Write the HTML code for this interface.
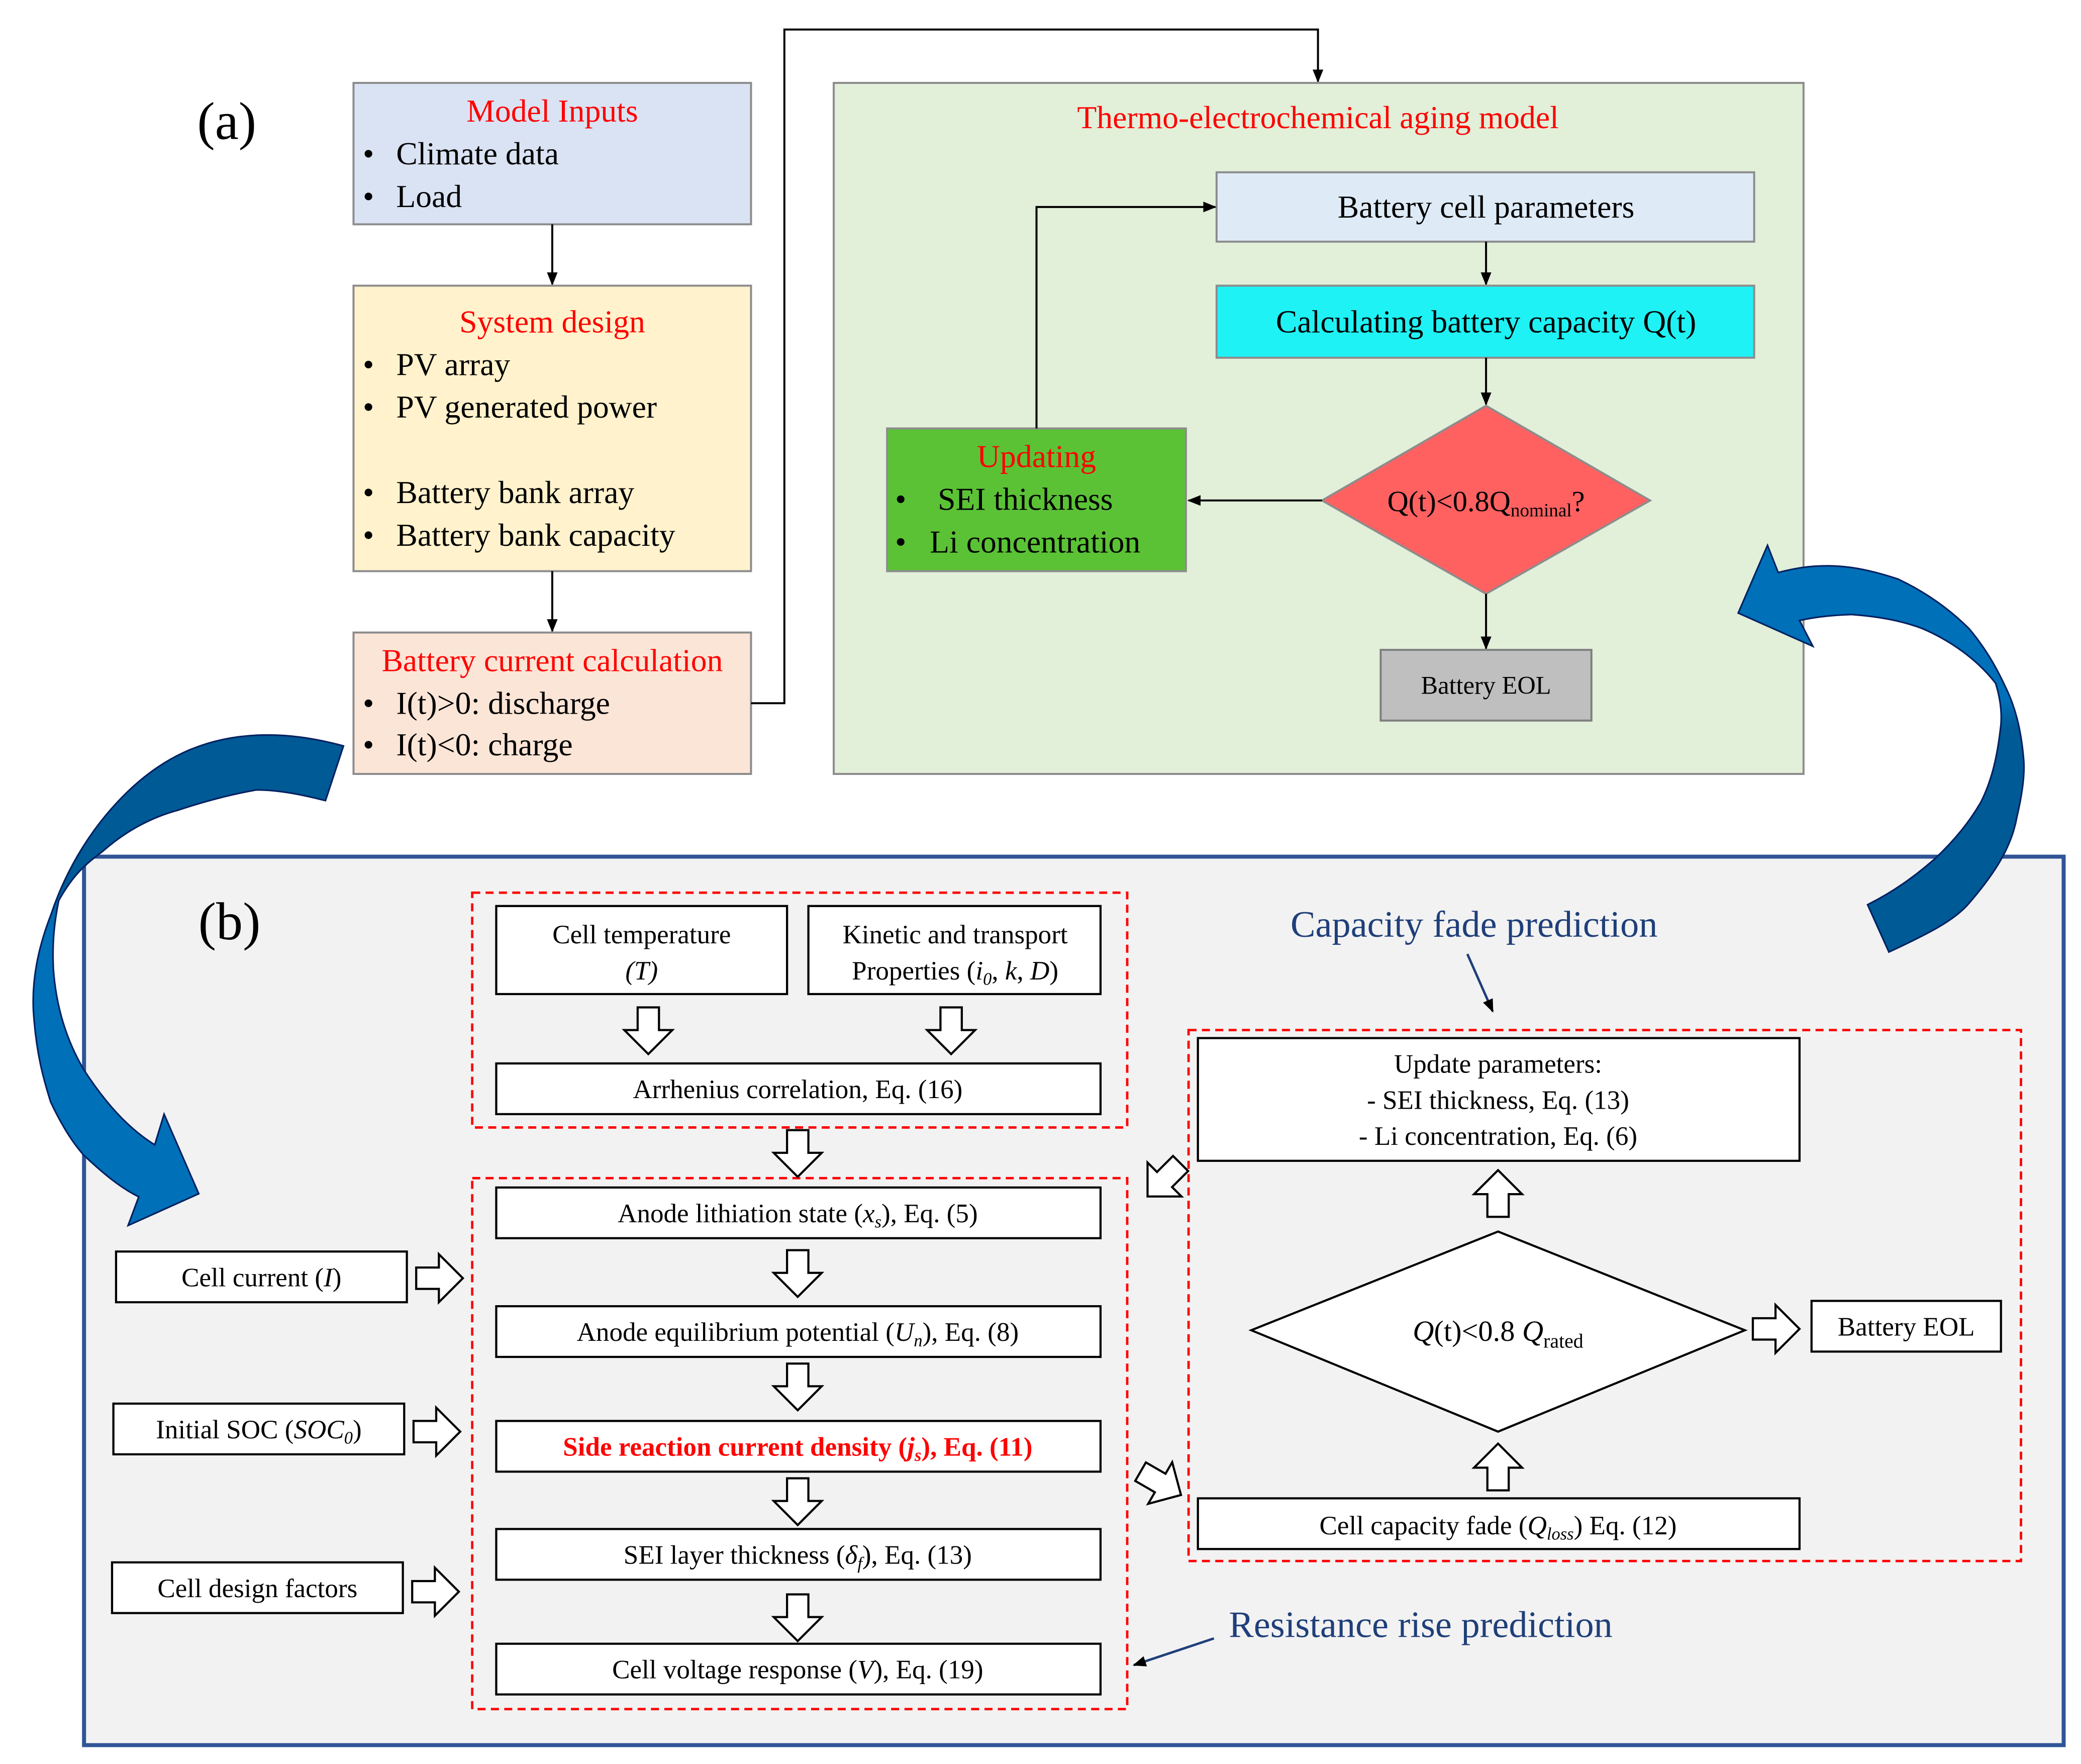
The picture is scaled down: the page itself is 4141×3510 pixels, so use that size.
<!DOCTYPE html>
<html><head><meta charset="utf-8"><style>
html,body{margin:0;padding:0;background:#fff;}
svg{display:block;}
text{font-family:"Liberation Serif",serif;}
</style></head><body>
<svg width="4141" height="3510" viewBox="0 0 1560 1322" xmlns="http://www.w3.org/2000/svg">
<defs>
<marker id="ah" markerWidth="10" markerHeight="10" refX="9" refY="5" orient="auto" markerUnits="userSpaceOnUse">
<path d="M0,1 L10,5 L0,9 Z" fill="#000"/></marker>
<g id="hd"><path d="M-8,0 H8 V17 H18 L0,35 L-18,17 H-8 Z" fill="#fff" stroke="#000" stroke-width="1.6"/></g>
<linearGradient id="gl" x1="0" y1="0" x2="0" y2="1"><stop offset="0.3" stop-color="#005a96"/><stop offset="0.4" stop-color="#0070b8"/></linearGradient>
<linearGradient id="gr" x1="0" y1="0" x2="0" y2="1"><stop offset="0.38" stop-color="#0070b8"/><stop offset="0.45" stop-color="#005a96"/></linearGradient>
</defs>

<!-- (a) -->
<text x="170" y="104" font-size="40" text-anchor="middle">(a)</text>

<rect x="265" y="62" width="298" height="106" fill="#dae3f3" stroke="#8c8c8c" stroke-width="1.5"/>
<text x="414" y="91" font-size="24" fill="#ff0000" text-anchor="middle">Model Inputs</text>
<text font-size="24"><tspan x="272" y="123">•</tspan><tspan x="297" y="123">Climate data</tspan><tspan x="272" y="155">•</tspan><tspan x="297" y="155">Load</tspan></text>
<line x1="414" y1="168" x2="414" y2="213" stroke="#000" stroke-width="1.5" marker-end="url(#ah)"/>

<rect x="265" y="214" width="298" height="214" fill="#fff2cc" stroke="#8c8c8c" stroke-width="1.5"/>
<text x="414" y="249" font-size="24" fill="#ff0000" text-anchor="middle">System design</text>
<text font-size="24"><tspan x="272" y="281">•</tspan><tspan x="297" y="281">PV array</tspan><tspan x="272" y="313">•</tspan><tspan x="297" y="313">PV generated power</tspan><tspan x="272" y="377">•</tspan><tspan x="297" y="377">Battery bank array</tspan><tspan x="272" y="409">•</tspan><tspan x="297" y="409">Battery bank capacity</tspan></text>
<line x1="414" y1="428" x2="414" y2="473" stroke="#000" stroke-width="1.5" marker-end="url(#ah)"/>

<rect x="265" y="474" width="298" height="106" fill="#fbe5d6" stroke="#8c8c8c" stroke-width="1.5"/>
<text x="414" y="503" font-size="24" fill="#ff0000" text-anchor="middle">Battery current calculation</text>
<text font-size="24"><tspan x="272" y="535">•</tspan><tspan x="297" y="535">I(t)&gt;0: discharge</tspan><tspan x="272" y="566">•</tspan><tspan x="297" y="566">I(t)&lt;0: charge</tspan></text>
<polyline points="563,527 588,527 588,22 988,22 988,61" fill="none" stroke="#000" stroke-width="1.5" marker-end="url(#ah)"/>

<rect x="625" y="62" width="727" height="518" fill="#e2efd9" stroke="#8c8c8c" stroke-width="1.5"/>
<text x="988" y="96" font-size="24" fill="#ff0000" text-anchor="middle">Thermo-electrochemical aging model</text>

<rect x="912" y="129" width="403" height="52" fill="#deebf7" stroke="#8c8c8c" stroke-width="1.5"/>
<text x="1114" y="163" font-size="24" text-anchor="middle">Battery cell parameters</text>
<line x1="1114" y1="181" x2="1114" y2="213" stroke="#000" stroke-width="1.5" marker-end="url(#ah)"/>
<rect x="912" y="214" width="403" height="54" fill="#1ff2f5" stroke="#8c8c8c" stroke-width="1.5"/>
<text x="1114" y="249" font-size="24" text-anchor="middle">Calculating battery capacity Q(t)</text>
<line x1="1114" y1="268" x2="1114" y2="303" stroke="#000" stroke-width="1.5" marker-end="url(#ah)"/>
<polygon points="1114,304 1237,375 1114,445 991,375" fill="#ff6161" stroke="#8c8c8c" stroke-width="1.5"/>
<text x="1114" y="383" font-size="22" text-anchor="middle">Q(t)&lt;0.8Q<tspan font-size="14" dy="4">nominal</tspan><tspan dy="-4">?</tspan></text>
<line x1="991" y1="375" x2="891" y2="375" stroke="#000" stroke-width="1.5" marker-end="url(#ah)"/>
<rect x="665" y="321" width="224" height="107" fill="#5bc236" stroke="#8c8c8c" stroke-width="1.5"/>
<text x="777" y="350" font-size="24" fill="#ff0000" text-anchor="middle">Updating</text>
<text font-size="24"><tspan x="671" y="382">•</tspan><tspan x="703" y="382">SEI thickness</tspan><tspan x="671" y="414">•</tspan><tspan x="697" y="414">Li concentration</tspan></text>
<polyline points="777,321 777,155 911,155" fill="none" stroke="#000" stroke-width="1.5" marker-end="url(#ah)"/>
<line x1="1114" y1="445" x2="1114" y2="486" stroke="#000" stroke-width="1.5" marker-end="url(#ah)"/>
<rect x="1035" y="487" width="158" height="53" fill="#bfbfbf" stroke="#7f7f7f" stroke-width="1.5"/>
<text x="1114" y="520" font-size="19" text-anchor="middle">Battery EOL</text>

<!-- (b) panel -->
<rect x="63" y="642" width="1484" height="666" fill="#f2f2f2" stroke="#2f5597" stroke-width="3"/>
<text x="172" y="704" font-size="40" text-anchor="middle">(b)</text>

<!-- blue curved arrows -->
<path d="M257.5,559 C235,553 215,550 192,551 C150,553 120,570 96,593 C70,618 50,650 38,686 C28,712 24,735 25,757 C27,790 33,810 38,826 C46,843 54,856 63,866 C78,880 90,890 104,897 L96,918.5 L149,894.7 L123,835 L116,858 C95,845 78,825 63,802 C50,780 42,755 40,726 C39,705 41,690 44,675 C55,655 65,647 77,638 C95,622 115,612 134,607 C155,600 175,595 192,592 C210,592 228,596 244,600 Z" fill="url(#gl)" stroke="#002060" stroke-width="1.2"/>
<path d="M1400,678 L1416,713.5 C1445,700 1465,690 1476,677 C1495,655 1508,635 1512,612 C1516,595 1518,580 1517,569 C1515,545 1510,528 1503,514 C1495,497 1487,484 1476,471 C1460,455 1442,443 1423,434 C1405,428 1388,424 1370,424 C1355,424 1345,426 1333,429 L1325,408.6 L1303,459.4 L1359,484.3 L1349,465 C1362,462 1375,461 1388,460.5 C1408,462 1425,465 1441,471 C1462,480 1482,494 1496,512 C1500,525 1501,537 1499.5,547 C1497,568 1493,585 1485,601 C1477,615 1465,630 1450,644 C1435,657 1420,668 1400,678 Z" fill="url(#gr)" stroke="#002060" stroke-width="1.2"/>

<g fill="none" stroke="#ff0000" stroke-width="1.8" stroke-dasharray="6,4">
<rect x="354" y="669" width="491" height="176"/>
<rect x="354" y="883" width="491" height="398"/>
<rect x="891" y="772" width="624" height="398"/>
</g>

<g fill="#fff" stroke="#000" stroke-width="1.6">
<rect x="372" y="679" width="218" height="66"/>
<rect x="606" y="679" width="219" height="66"/>
<rect x="372" y="797" width="453" height="38"/>
<rect x="372" y="890" width="453" height="38"/>
<rect x="372" y="979" width="453" height="38"/>
<rect x="372" y="1065" width="453" height="38"/>
<rect x="372" y="1146" width="453" height="38"/>
<rect x="372" y="1232" width="453" height="38"/>
<rect x="87" y="938" width="218" height="38"/>
<rect x="85" y="1052" width="218" height="38"/>
<rect x="84" y="1171" width="218" height="38"/>
<rect x="898" y="778" width="451" height="92"/>
<rect x="898" y="1123" width="451" height="38"/>
<rect x="1358" y="975" width="142" height="38"/>
<polygon points="1123,923 1308,997 1123,1073 938,997"/>
</g>

<g font-size="20" text-anchor="middle">
<text x="481" y="707">Cell temperature</text>
<text x="481" y="734" font-style="italic">(T)</text>
<text x="716" y="707">Kinetic and transport</text>
<text x="716" y="734">Properties (<tspan font-style="italic">i</tspan><tspan font-size="13" font-style="italic" dy="4">0</tspan><tspan dy="-4">, </tspan><tspan font-style="italic">k</tspan>, <tspan font-style="italic">D</tspan>)</text>
<text x="598" y="823">Arrhenius correlation, Eq. (16)</text>
<text x="598" y="916">Anode lithiation state (<tspan font-style="italic">x</tspan><tspan font-size="13" font-style="italic" dy="4">s</tspan><tspan dy="-4">), Eq. (5)</tspan></text>
<text x="598" y="1005">Anode equilibrium potential (<tspan font-style="italic">U</tspan><tspan font-size="13" font-style="italic" dy="4">n</tspan><tspan dy="-4">), Eq. (8)</tspan></text>
<text x="598" y="1091" fill="#ff0000" font-weight="bold">Side reaction current density (<tspan font-style="italic">j</tspan><tspan font-size="13" font-style="italic" dy="4">s</tspan><tspan dy="-4">), Eq. (11)</tspan></text>
<text x="598" y="1172">SEI layer thickness (<tspan font-style="italic">δ</tspan><tspan font-size="13" font-style="italic" dy="4">f</tspan><tspan dy="-4">), Eq. (13)</tspan></text>
<text x="598" y="1258">Cell voltage response (<tspan font-style="italic">V</tspan>), Eq. (19)</text>
<text x="196" y="964">Cell current (<tspan font-style="italic">I</tspan>)</text>
<text x="194" y="1078">Initial SOC (<tspan font-style="italic">SOC</tspan><tspan font-size="13" font-style="italic" dy="4">0</tspan><tspan dy="-4">)</tspan></text>
<text x="193" y="1197">Cell design factors</text>
<text x="1123" y="804">Update parameters:</text>
<text x="1123" y="831">- SEI thickness, Eq. (13)</text>
<text x="1123" y="858">- Li concentration, Eq. (6)</text>
<text x="1123" y="1150">Cell capacity fade (<tspan font-style="italic">Q</tspan><tspan font-size="13" font-style="italic" dy="4">loss</tspan><tspan dy="-4">) Eq. (12)</tspan></text>
<text x="1429" y="1001">Battery EOL</text>
<text x="1123" y="1005" font-size="22"><tspan font-style="italic">Q</tspan>(t)&lt;0.8 <tspan font-style="italic">Q</tspan><tspan font-size="15" dy="5">rated</tspan></text>
</g>

<!-- hollow arrows -->
<use href="#hd" transform="translate(486,755)"/>
<use href="#hd" transform="translate(713,755)"/>
<use href="#hd" transform="translate(598,847)"/>
<use href="#hd" transform="translate(598,937)"/>
<use href="#hd" transform="translate(598,1022)"/>
<use href="#hd" transform="translate(598,1108)"/>
<use href="#hd" transform="translate(598,1195)"/>
<use href="#hd" transform="translate(312,958) rotate(-90)"/>
<use href="#hd" transform="translate(310,1073) rotate(-90)"/>
<use href="#hd" transform="translate(309,1193) rotate(-90)"/>
<use href="#hd" transform="translate(1314,996) rotate(-90)"/>
<use href="#hd" transform="translate(1123,912) rotate(180)"/>
<use href="#hd" transform="translate(1123,1117) rotate(180)"/>
<use href="#hd" transform="translate(885,872) rotate(45)"/>
<use href="#hd" transform="translate(855,1103) rotate(-60)"/>

<text x="1105" y="702" font-size="28" fill="#1f3f7a" text-anchor="middle">Capacity fade prediction</text>
<line x1="1100" y1="715" x2="1119" y2="758" stroke="#1f3f7a" stroke-width="1.8" marker-end="url(#ah)"/>
<text x="1065" y="1227" font-size="28" fill="#1f3f7a" text-anchor="middle">Resistance rise prediction</text>
<line x1="910" y1="1228" x2="850" y2="1248" stroke="#1f3f7a" stroke-width="1.8" marker-end="url(#ah)"/>
</svg>
</body></html>
